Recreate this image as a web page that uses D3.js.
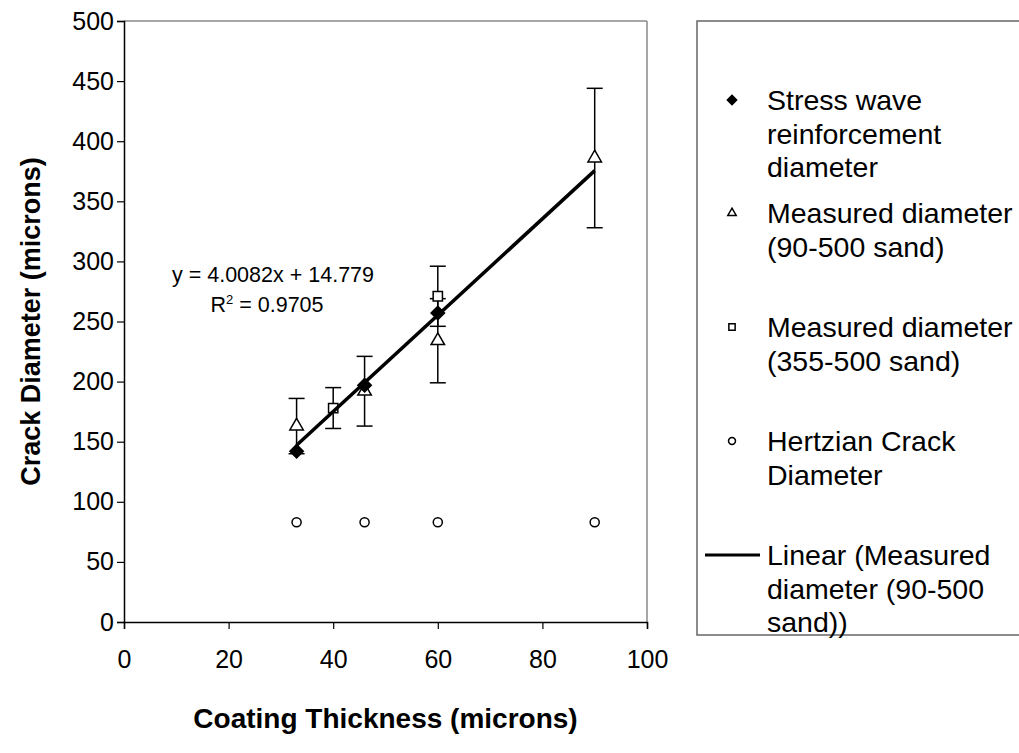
<!DOCTYPE html>
<html>
<head>
<meta charset="utf-8">
<script src="https://cdn.jsdelivr.net/npm/d3@7"></script>
<style>
  body { margin: 0; background: #fff; }
  text { font-family: "Liberation Sans", Arial, sans-serif; fill: #000; }
</style>
</head>
<body>
<div id="chart"></div>
<script>
//data
var xTicks = [0, 20, 40, 60, 80, 100];
var yTicks = [0, 50, 100, 150, 200, 250, 300, 350, 400, 450, 500];

//stress wave reinforcement diameter (filled diamonds)
var stressX = [33, 46, 60];
var stressY = [142, 197, 257];

//measured 90-500 sand (triangles) + error
var meas90X = [33, 46, 60, 90];
var meas90Y = [163, 192, 234, 386];
var meas90Err = [23, 29, 35, 58];

//measured 355-500 sand (squares) + error
var meas355X = [40, 60];
var meas355Y = [178, 271];
var meas355Err = [17, 25];

//hertzian crack diameter (circles)
var hertzX = [33, 46, 60, 90];
var hertzY = [83, 83, 83, 83];

//trend line of the 90-500 series
var slope = 4.0082, intercept = 14.779;

var legendLines = [
    {sym: "diamond", lines: ["Stress wave", "reinforcement", "diameter"]},
    {sym: "triangle", lines: ["Measured diameter", "(90-500 sand)"]},
    {sym: "square", lines: ["Measured diameter", "(355-500 sand)"]},
    {sym: "circle", lines: ["Hertzian Crack", "Diameter"]},
    {sym: "line", lines: ["Linear (Measured", "diameter (90-500", "sand))"]}
];

var W = 1019, H = 753;
var margin = {top: 21, left: 124, right: 372, bottom: 131};
var width = W - margin.left - margin.right,
    height = H - margin.top - margin.bottom;

var svg = d3.select("#chart").append("svg")
    .attr("width", W).attr("height", H);

var g = svg.append("g")
    .attr("transform", "translate(" + margin.left + "," + margin.top + ")");

var x = d3.scaleLinear().domain([0, 100]).range([0, width]);
var y = d3.scaleLinear().domain([0, 500]).range([height, 0]);

//grey frame on top and right
g.append("line").attr("x1", 0).attr("x2", width).attr("y1", 0).attr("y2", 0)
    .attr("stroke", "#888").attr("stroke-width", 1.5);
g.append("line").attr("x1", width).attr("x2", width).attr("y1", 0).attr("y2", height)
    .attr("stroke", "#888").attr("stroke-width", 1.5);

//axes
var xAxis = g.append("g").attr("transform", "translate(0," + height + ")")
    .call(d3.axisBottom(x).tickValues(xTicks).tickSize(7).tickPadding(21));
var yAxis = g.append("g")
    .call(d3.axisLeft(y).tickValues(yTicks).tickSize(7).tickPadding(3));
[xAxis, yAxis].forEach(a => {
    a.select(".domain").attr("stroke", "#000").attr("stroke-width", 1.5);
    a.selectAll(".tick line").attr("stroke", "#000").attr("stroke-width", 1.2);
    a.selectAll(".tick text").attr("font-size", 25).attr("font-family", "Liberation Sans, Arial, sans-serif");
});

//axis titles
svg.append("text")
    .attr("x", margin.left + width / 2).attr("y", 728)
    .attr("text-anchor", "middle").attr("font-size", 28).attr("font-weight", "bold")
    .text("Coating Thickness (microns)");
svg.append("text")
    .attr("transform", "translate(40," + (margin.top + height / 2) + ") rotate(-90)")
    .attr("text-anchor", "middle").attr("font-size", 27).attr("font-weight", "bold")
    .text("Crack Diameter (microns)");

//symbols
var sym = {
    diamond: d3.symbol().type(d3.symbolDiamond2).size(115),
    triangle: d3.symbol().type(d3.symbolTriangle2).size(130),
    square: d3.symbol().type(d3.symbolSquare2).size(110),
    circle: d3.symbol().type(d3.symbolCircle).size(65)
};

//error bars
function errorBars(xs, ys, es) {
    var eb = g.append("g").selectAll("g").data(xs.map((d, i) => ({x: d, y: ys[i], e: es[i]})))
        .enter().append("g").attr("stroke", "#000").attr("stroke-width", 1.5);
    eb.append("line")
        .attr("x1", d => x(d.x)).attr("x2", d => x(d.x))
        .attr("y1", d => y(d.y - d.e)).attr("y2", d => y(d.y + d.e));
    [-1, 1].forEach(s => {
        eb.append("line")
            .attr("x1", d => x(d.x) - 8).attr("x2", d => x(d.x) + 8)
            .attr("y1", d => y(d.y + s * d.e)).attr("y2", d => y(d.y + s * d.e));
    });
}
errorBars(meas90X, meas90Y, meas90Err);
errorBars(meas355X, meas355Y, meas355Err);

function points(xs, ys, shape, fill) {
    g.append("g").selectAll("path").data(xs.map((d, i) => [d, ys[i]]))
        .enter().append("path")
        .attr("d", sym[shape])
        .attr("transform", d => "translate(" + x(d[0]) + "," + y(d[1]) + ")")
        .attr("fill", fill).attr("stroke", "#000").attr("stroke-width", 1.5);
}
points(hertzX, hertzY, "circle", "#fff");
points(meas355X, meas355Y, "square", "#fff");
points(meas90X, meas90Y, "triangle", "#fff");
points(stressX, stressY, "diamond", "#000");

//trend line
var tx = d3.extent(meas90X);
g.append("line")
    .attr("x1", x(tx[0])).attr("y1", y(slope * tx[0] + intercept))
    .attr("x2", x(tx[1])).attr("y2", y(slope * tx[1] + intercept))
    .attr("stroke", "#000").attr("stroke-width", 3.5);

//equation
svg.append("text").attr("font-size", 21.5).attr("text-anchor", "middle")
    .attr("x", 273).attr("y", 282).text("y = 4.0082x + 14.779");
var r2 = svg.append("text").attr("font-size", 21.5).attr("text-anchor", "middle")
    .attr("x", 267).attr("y", 312);
r2.append("tspan").text("R");
r2.append("tspan").attr("font-size", 13).attr("dy", -8).text("2");
r2.append("tspan").attr("dy", 8).text(" = 0.9705");

//legend
var leg = svg.append("g");
leg.append("rect").attr("x", 697).attr("y", 21).attr("width", 330).attr("height", 614)
    .attr("fill", "none").attr("stroke", "#666").attr("stroke-width", 1.5);
var entryY = [100, 213, 327, 441, 555];
var lineH = 33.5;
legendLines.forEach((d, i) => {
    var cy = entryY[i];
    if (d.sym === "line") {
        leg.append("line").attr("x1", 705).attr("x2", 760).attr("y1", cy).attr("y2", cy)
            .attr("stroke", "#000").attr("stroke-width", 3);
    } else {
        var small = {diamond: 55, triangle: 50, square: 50, circle: 38}[d.sym];
        leg.append("path")
            .attr("d", d3.symbol().type({diamond: d3.symbolDiamond2, triangle: d3.symbolTriangle2,
                square: d3.symbolSquare2, circle: d3.symbolCircle}[d.sym]).size(small))
            .attr("transform", "translate(732," + cy + ")")
            .attr("fill", d.sym === "diamond" ? "#000" : "#fff")
            .attr("stroke", "#000").attr("stroke-width", 1.5);
    }
    d.lines.forEach((t, j) => {
        leg.append("text").attr("x", 767).attr("y", cy + j * lineH + 10)
            .attr("font-size", 28.5).text(t);
    });
});
</script>
</body>
</html>
